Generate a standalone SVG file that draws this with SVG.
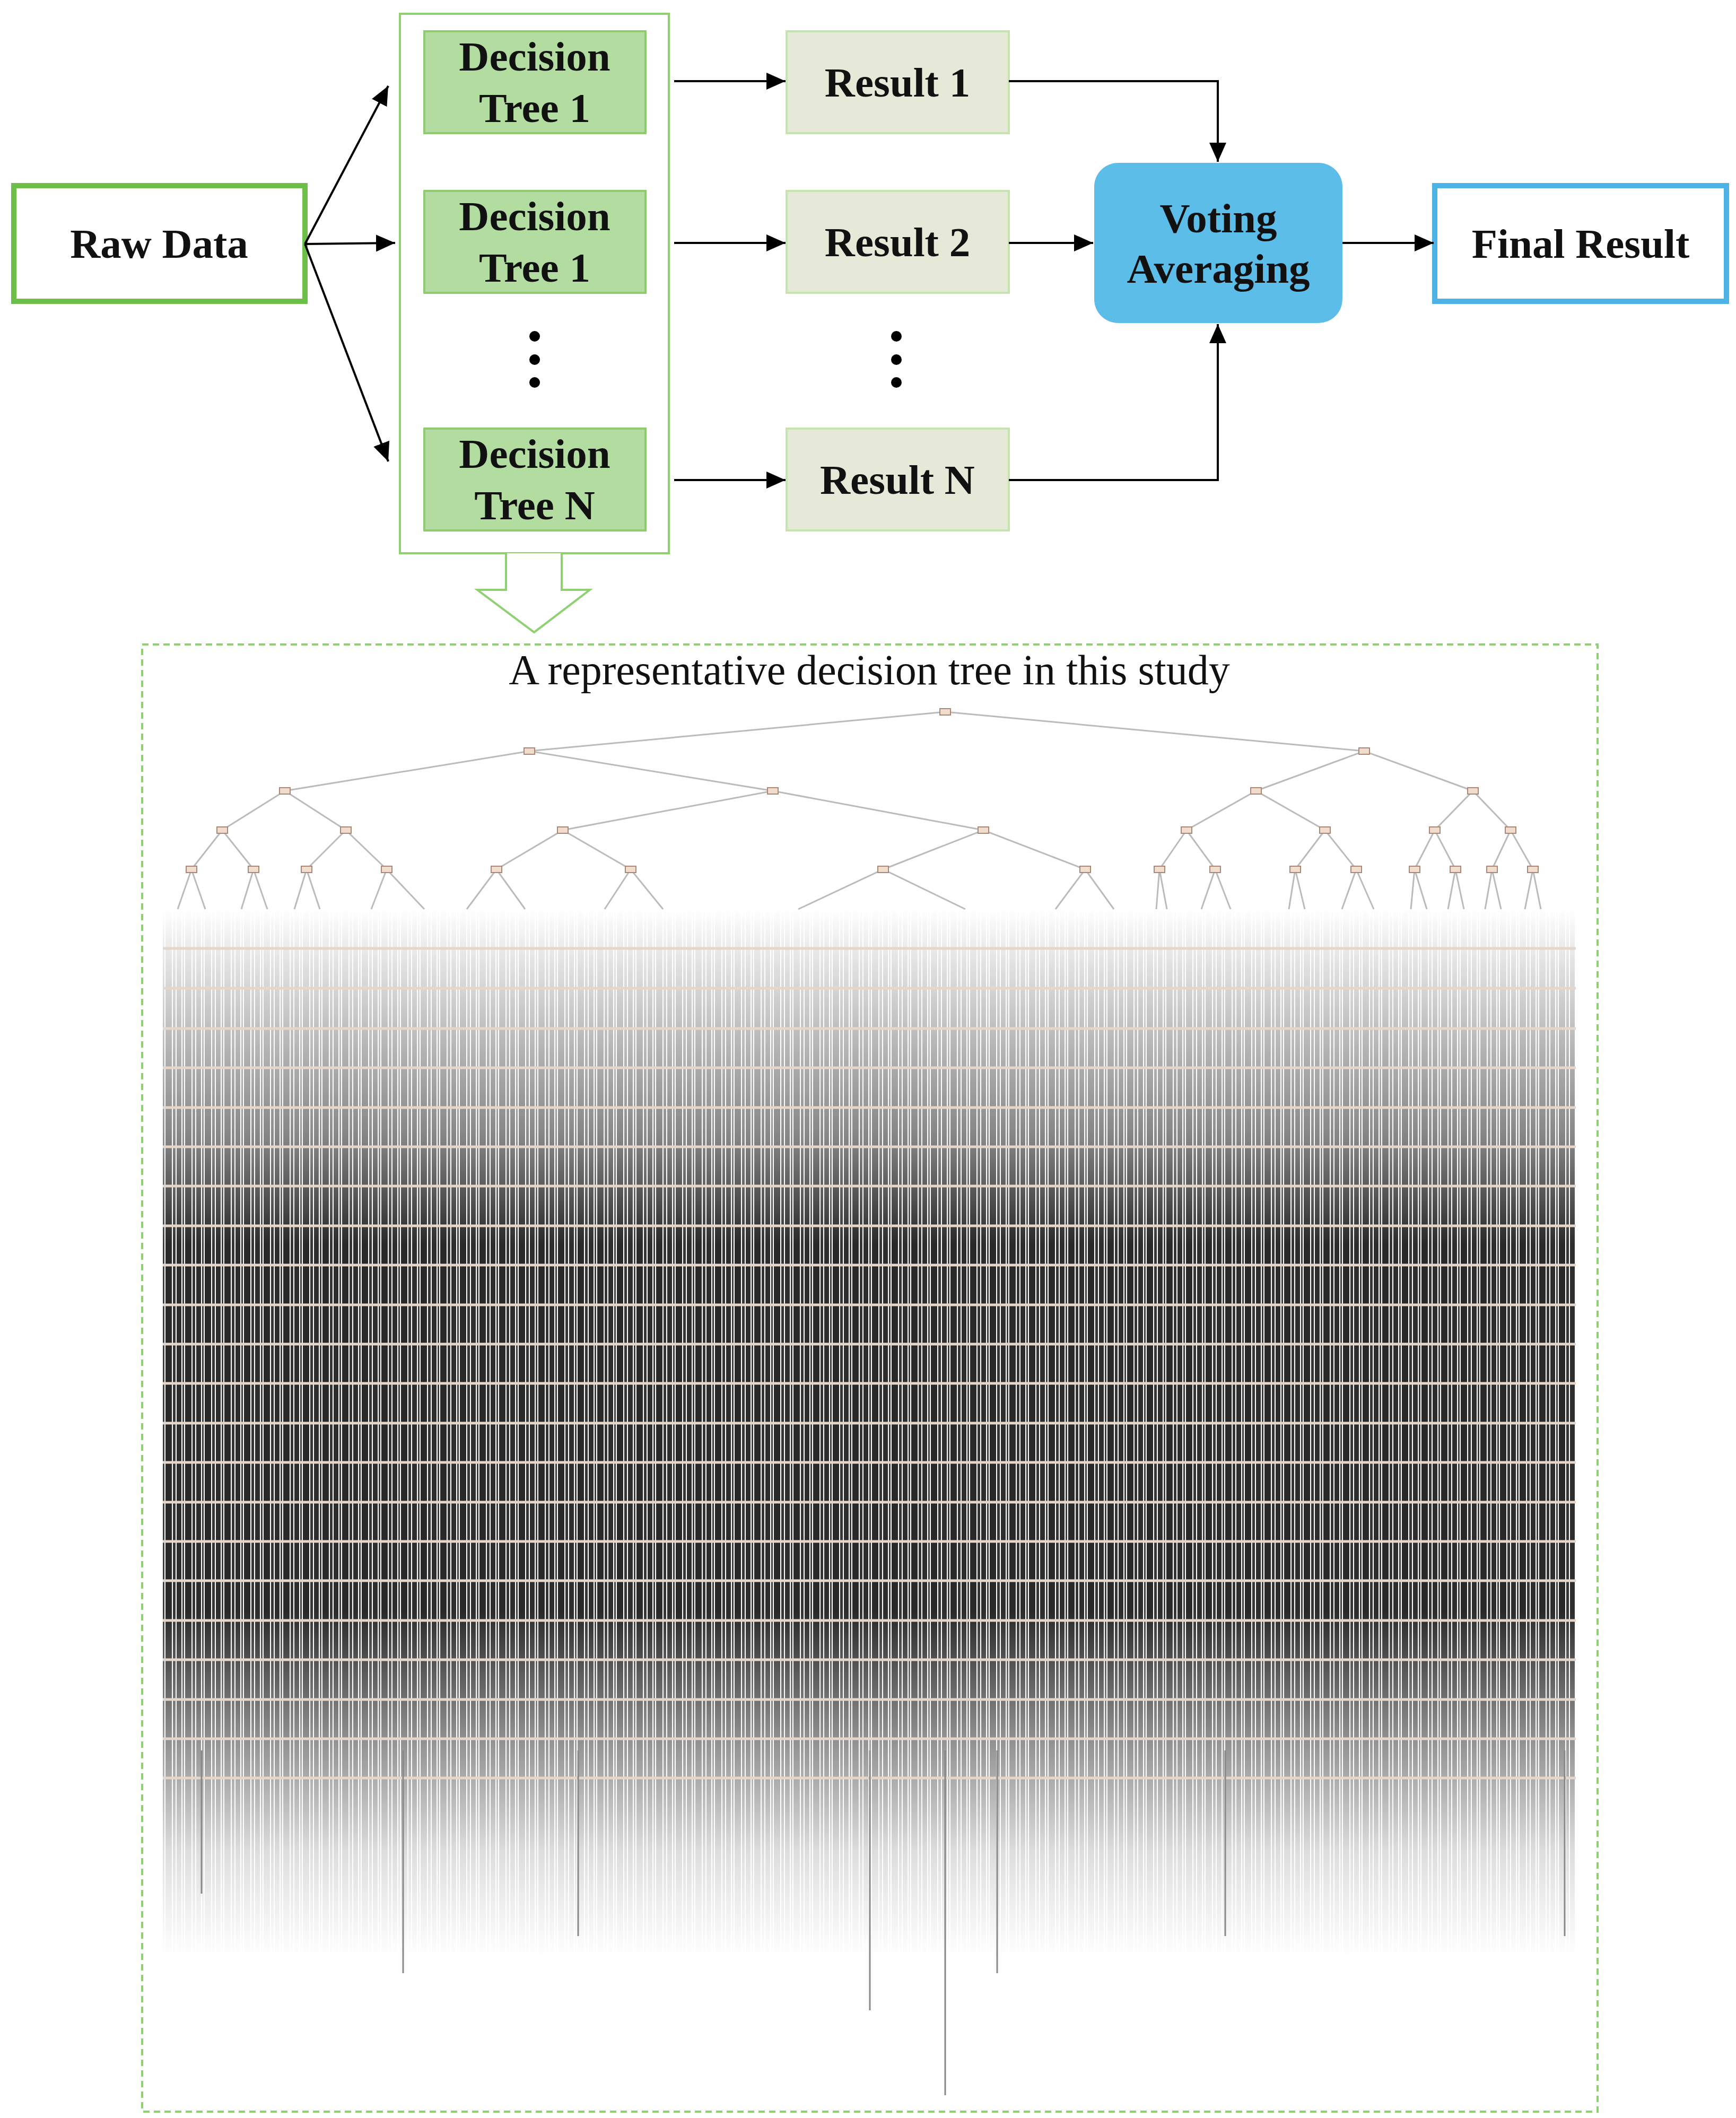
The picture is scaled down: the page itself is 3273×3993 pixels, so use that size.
<svg xmlns="http://www.w3.org/2000/svg" width="3273" height="3993" viewBox="0 0 3273 3993">
<style>
.t{font-family:"Liberation Serif",serif;font-weight:bold;font-size:79px;fill:#111;text-anchor:middle}
.dt{fill:#b3dda0;stroke:#8fcc70;stroke-width:4}
.rs{fill:#e6e8d8;stroke:#c7e3b0;stroke-width:4}
.c{fill:none;stroke:#000;stroke-width:4}
.e{stroke:#bbb;stroke-width:3;fill:none}
.n{fill:#f2dccb;stroke:#a88878;stroke-width:2}
</style>
<defs>
<marker id="a" markerWidth="10" markerHeight="10" refX="9" refY="5" orient="auto" markerUnits="strokeWidth"><path d="M0,1 L9,5 L0,9 z" fill="#000"/></marker>
<pattern id="vl" width="37" height="40" patternUnits="userSpaceOnUse">
<rect width="37" height="40" fill="#fff"/>
<rect x="0" width="9" height="40" fill="#222"/><rect x="11" width="3" height="40" fill="#333"/><rect x="16" width="12" height="40" fill="#1e1e1e"/><rect x="30" width="5" height="40" fill="#2a2a2a"/>
</pattern>
<linearGradient id="g" x1="0" y1="0" x2="0" y2="1">
<stop offset="0" stop-color="#fff" stop-opacity="0"/>
<stop offset="0.22" stop-color="#fff" stop-opacity="0.55"/>
<stop offset="0.32" stop-color="#fff" stop-opacity="0.95"/>
<stop offset="0.67" stop-color="#fff" stop-opacity="0.95"/>
<stop offset="0.79" stop-color="#fff" stop-opacity="0.5"/>
<stop offset="0.9" stop-color="#fff" stop-opacity="0.15"/>
<stop offset="1" stop-color="#fff" stop-opacity="0"/>
</linearGradient>
<mask id="m"><rect x="307" y="1714" width="2664" height="1976" fill="url(#g)"/></mask>
</defs>

<g id="rawdata"><rect x="26" y="350" width="549" height="218" fill="#fff" stroke="#6cc04a" stroke-width="10"/><text class="t" x="300" y="486">Raw Data</text></g>
<g id="container"><rect x="754" y="26" width="507" height="1017" fill="none" stroke="#8fd070" stroke-width="4"/></g>
<g id="dt1"><rect class="dt" x="800" y="59" width="417" height="192"/><text class="t" x="1008" y="133">Decision</text><text class="t" x="1008" y="230">Tree 1</text></g>
<g id="dt2"><rect class="dt" x="800" y="360" width="417" height="192"/><text class="t" x="1008" y="434">Decision</text><text class="t" x="1008" y="531">Tree 1</text></g>
<g id="dtn"><rect class="dt" x="800" y="808" width="417" height="192"/><text class="t" x="1008" y="882">Decision</text><text class="t" x="1008" y="979">Tree N</text></g>
<g id="dots1" fill="#000"><circle cx="1008" cy="634" r="10"/><circle cx="1008" cy="678" r="10"/><circle cx="1008" cy="721" r="10"/></g>
<g id="r1"><rect class="rs" x="1483" y="59" width="419" height="192"/><text class="t" x="1692" y="182">Result 1</text></g>
<g id="r2"><rect class="rs" x="1483" y="360" width="419" height="192"/><text class="t" x="1692" y="483">Result 2</text></g>
<g id="rn"><rect class="rs" x="1483" y="808" width="419" height="192"/><text class="t" x="1692" y="931">Result N</text></g>
<g id="dots2" fill="#000"><circle cx="1690" cy="634" r="10"/><circle cx="1690" cy="678" r="10"/><circle cx="1690" cy="721" r="10"/></g>
<g id="voting"><rect x="2063" y="307" width="468" height="302" rx="45" fill="#5bbde8"/><text class="t" x="2297" y="438">Voting</text><text class="t" x="2297" y="533">Averaging</text></g>
<g id="final"><rect x="2705" y="350" width="550" height="218" fill="#fff" stroke="#4db3e6" stroke-width="10"/><text class="t" x="2980" y="486">Final Result</text></g>

<g id="connectors">
<line class="c" x1="575" y1="460" x2="732" y2="162" marker-end="url(#a)"/>
<line class="c" x1="575" y1="460" x2="745" y2="458" marker-end="url(#a)"/>
<line class="c" x1="575" y1="460" x2="732" y2="870" marker-end="url(#a)"/>
<line class="c" x1="1271" y1="153" x2="1481" y2="153" marker-end="url(#a)"/>
<line class="c" x1="1271" y1="458" x2="1481" y2="458" marker-end="url(#a)"/>
<line class="c" x1="1271" y1="905" x2="1481" y2="905" marker-end="url(#a)"/>
<polyline class="c" points="1902,153 2296,153 2296,305" marker-end="url(#a)"/>
<line class="c" x1="1902" y1="458" x2="2061" y2="458" marker-end="url(#a)"/>
<polyline class="c" points="1902,905 2296,905 2296,611" marker-end="url(#a)"/>
<line class="c" x1="2531" y1="458" x2="2703" y2="458" marker-end="url(#a)"/>
<path d="M954,1043 L954,1112 L900,1112 L1007,1192 L1112,1112 L1059,1112 L1059,1043" fill="#fff" stroke="#8fd070" stroke-width="4"/>
</g>

<g id="treepanel">
<rect x="268" y="1215" width="2744" height="2766" fill="none" stroke="#8fd070" stroke-width="4" stroke-dasharray="12,8"/>
<text x="1639" y="1290" font-family="Liberation Serif,serif" font-size="80" text-anchor="middle" fill="#111">A representative decision tree in this study</text>
<rect x="307" y="1714" width="2664" height="1976" fill="url(#vl)" mask="url(#m)"/>
<g stroke="#e6d6ca" stroke-width="5">
<line x1="307" y1="1788" x2="2971" y2="1788"/><line x1="307" y1="1863" x2="2971" y2="1863"/><line x1="307" y1="1939" x2="2971" y2="1939"/><line x1="307" y1="2013" x2="2971" y2="2013"/><line x1="307" y1="2088" x2="2971" y2="2088"/><line x1="307" y1="2162" x2="2971" y2="2162"/><line x1="307" y1="2236" x2="2971" y2="2236"/><line x1="307" y1="2311" x2="2971" y2="2311"/><line x1="307" y1="2385" x2="2971" y2="2385"/><line x1="307" y1="2460" x2="2971" y2="2460"/><line x1="307" y1="2534" x2="2971" y2="2534"/><line x1="307" y1="2608" x2="2971" y2="2608"/><line x1="307" y1="2683" x2="2971" y2="2683"/><line x1="307" y1="2757" x2="2971" y2="2757"/><line x1="307" y1="2832" x2="2971" y2="2832"/><line x1="307" y1="2906" x2="2971" y2="2906"/><line x1="307" y1="2980" x2="2971" y2="2980"/><line x1="307" y1="3055" x2="2971" y2="3055"/><line x1="307" y1="3129" x2="2971" y2="3129"/><line x1="307" y1="3204" x2="2971" y2="3204"/><line x1="307" y1="3278" x2="2971" y2="3278"/><line x1="307" y1="3352" x2="2971" y2="3352"/>
</g>
<g class="e">
<polyline points="998,1416 1782,1342 2572,1416"/>
<polyline points="537,1491 998,1416 1457,1491"/>
<polyline points="2368,1491 2572,1416 2777,1491"/>
<polyline points="419,1565 537,1491 652,1565"/>
<polyline points="1061,1565 1457,1491 1854,1565"/>
<polyline points="2237,1565 2368,1491 2498,1565"/>
<polyline points="2705,1565 2777,1491 2848,1565"/>
<polyline points="361,1639 419,1565 478,1639"/><polyline points="578,1639 652,1565 729,1639"/>
<polyline points="936,1639 1061,1565 1189,1639"/><polyline points="1665,1639 1854,1565 2046,1639"/>
<polyline points="2186,1639 2237,1565 2291,1639"/><polyline points="2442,1639 2498,1565 2557,1639"/>
<polyline points="2667,1639 2705,1565 2744,1639"/><polyline points="2813,1639 2848,1565 2890,1639"/>
<polyline points="335,1714 361,1639 387,1714"/><polyline points="455,1714 478,1639 504,1714"/><polyline points="555,1714 578,1639 603,1714"/><polyline points="700,1714 729,1639 800,1714"/>
<polyline points="880,1714 936,1639 990,1714"/><polyline points="1140,1714 1189,1639 1250,1714"/><polyline points="1505,1714 1665,1639 1820,1714"/><polyline points="1990,1714 2046,1639 2100,1714"/>
<polyline points="2180,1714 2186,1639 2200,1714"/><polyline points="2265,1714 2291,1639 2320,1714"/><polyline points="2430,1714 2442,1639 2460,1714"/><polyline points="2530,1714 2557,1639 2590,1714"/>
<polyline points="2660,1714 2667,1639 2690,1714"/><polyline points="2730,1714 2744,1639 2760,1714"/><polyline points="2800,1714 2813,1639 2830,1714"/><polyline points="2875,1714 2890,1639 2905,1714"/>
</g>
<g class="n">
<rect x="1772" y="1336" width="20" height="12"/><rect x="988" y="1410" width="20" height="12"/><rect x="2562" y="1410" width="20" height="12"/>
<rect x="527" y="1485" width="20" height="12"/><rect x="1447" y="1485" width="20" height="12"/><rect x="2358" y="1485" width="20" height="12"/><rect x="2767" y="1485" width="20" height="12"/>
<rect x="409" y="1559" width="20" height="12"/><rect x="642" y="1559" width="20" height="12"/><rect x="1051" y="1559" width="20" height="12"/><rect x="1844" y="1559" width="20" height="12"/><rect x="2227" y="1559" width="20" height="12"/><rect x="2488" y="1559" width="20" height="12"/><rect x="2695" y="1559" width="20" height="12"/><rect x="2838" y="1559" width="20" height="12"/>
<rect x="351" y="1633" width="20" height="12"/><rect x="468" y="1633" width="20" height="12"/><rect x="568" y="1633" width="20" height="12"/><rect x="719" y="1633" width="20" height="12"/><rect x="926" y="1633" width="20" height="12"/><rect x="1179" y="1633" width="20" height="12"/><rect x="1655" y="1633" width="20" height="12"/><rect x="2036" y="1633" width="20" height="12"/><rect x="2176" y="1633" width="20" height="12"/><rect x="2281" y="1633" width="20" height="12"/><rect x="2432" y="1633" width="20" height="12"/><rect x="2547" y="1633" width="20" height="12"/><rect x="2657" y="1633" width="20" height="12"/><rect x="2734" y="1633" width="20" height="12"/><rect x="2803" y="1633" width="20" height="12"/><rect x="2880" y="1633" width="20" height="12"/>
</g>
<g stroke="#888" stroke-width="3">
<line x1="1782" y1="3300" x2="1782" y2="3950"/><line x1="1640" y1="3300" x2="1640" y2="3790"/><line x1="760" y1="3300" x2="760" y2="3720"/><line x1="2310" y1="3300" x2="2310" y2="3650"/><line x1="380" y1="3300" x2="380" y2="3570"/><line x1="2950" y1="3300" x2="2950" y2="3650"/><line x1="1880" y1="3300" x2="1880" y2="3720"/><line x1="1090" y1="3300" x2="1090" y2="3650"/>
</g>
</g>
</svg>
